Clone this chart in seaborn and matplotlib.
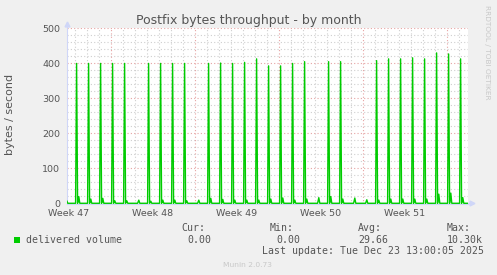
import matplotlib
matplotlib.use("Agg")
import matplotlib.pyplot as plt
import seaborn as sns
import pandas as pd
from matplotlib.lines import Line2D
from matplotlib.patches import Rectangle

# ---------------- data ----------------
# day offsets relative to Monday 2025-11-24 (start of week 48)
days = list(range(-4, 30))
peaks = [0, 399, 399, 399, 399, 399, 0, 399, 399, 399, 399, 0,
         399, 400, 399, 402, 412, 392, 392, 399, 404, 0, 404, 404,
         0, 0, 407, 412, 412, 415, 412, 429, 426, 412]
bumps = [7, 19, 12, 14, 7, 7, 9, 6, 9, 9, 7, 9,
         14, 11, 9, 9, 9, 12, 15, 9, 12, 16, 19, 12,
         15, 10, 9, 12, 12, 12, 12, 26, 29, 16]
week_labels = ["Week 47", "Week 48", "Week 49", "Week 50", "Week 51"]
y_ticks = [0, 100, 200, 300, 400, 500]
title = "Postfix bytes throughput - by month"
ylabel = "bytes / second"
series_name = "delivered volume"
stat_names = ["Cur:", "Min:", "Avg:", "Max:"]
stat_values = ["0.00", "0.00", "29.66", "10.30k"]
last_update = "Last update: Tue Dec 23 13:00:05 2025"
footer = "Munin 2.0.73"
side_text = "RRDTOOL / TOBI OETIKER"

# build the line vertices (2-hour slots) from the daily values
xs, ys = [], []
for d, p, b in zip(days, peaks, bumps):
    xs += [d + 0.6 / 12, d + 1.6 / 12, d + 2.6 / 12, d + 3.8 / 12, d + 4.8 / 12]
    ys += [0, p, 0, b, 0]
xs.append(29.75)
ys.append(0)
df = pd.DataFrame({"t": xs, "v": ys})

# ---------------- style ----------------
sns.set_style("white")
plt.rcParams["font.family"] = ["DejaVu Sans"]

W, H = 497, 275
fig = plt.figure(figsize=(W / 100, H / 100), dpi=100, facecolor="#f0f0f0")


def fx(px):
    return px / W


def fy(py):
    return 1 - py / H


AXL, AXR, AXT, AXB = 67, 468, 28, 203.8
ax = fig.add_axes([fx(AXL), fy(AXB), (AXR - AXL) / W, (AXB - AXT) / H])
ax.set_facecolor("white")
ax.set_xlim(-44 / 12, 357 / 12)
ax.set_ylim(-1.5, 500)

minor_c = "#cfcfcf"
major_c = "#e6a3a3"
dots = (0, (1, 2))
for v in range(20, 501, 20):
    if v % 100:
        ax.axhline(v, color=minor_c, lw=0.8, ls=dots, zorder=1)
for d in range(-3, 30):
    if d % 7:
        ax.axvline(d, color=minor_c, lw=0.8, ls=dots, zorder=1)
for v in range(100, 501, 100):
    ax.axhline(v, color=major_c, lw=0.8, ls=dots, zorder=1.5)
for d in range(0, 30, 7):
    ax.axvline(d, color=major_c, lw=0.8, ls=dots, zorder=1.5)

sns.lineplot(data=df, x="t", y="v", ax=ax, color="#00cc00", linewidth=1.0,
             estimator=None, sort=False, zorder=3)
ax.set_xlabel("")
ax.set_ylabel("")

for s in ["top", "right"]:
    ax.spines[s].set_visible(False)
for s in ["left", "bottom"]:
    ax.spines[s].set_color("#cfd6f8")
    ax.spines[s].set_linewidth(0.8)

# y ticks
ax.set_yticks(y_ticks)
ax.set_yticklabels([str(v) for v in y_ticks])
ax.tick_params(axis="y", length=0, pad=5, labelsize=6.8, labelcolor="#555555")
# x ticks (weekly marks, labels placed mid-week)
ax.set_xticks(list(range(0, 30, 7)))
ax.set_xticklabels([])
ax.tick_params(axis="x", length=2, width=0.8, color=major_c, direction="out")
for i, lab in enumerate(week_labels):
    xpos = -3.5 + 7 * i
    xpix = AXL + (xpos + 44 / 12) * 12
    fig.text(fx(xpix), fy(215.7), lab, ha="center", va="baseline",
             fontsize=6.8, color="#555555")

# axis arrows
fig.add_artist(Line2D([fx(AXL), fx(AXL)], [fy(AXT), fy(22)], color="#cfd6f8", lw=0.8))
fig.add_artist(Line2D([fx(AXL)], [fy(23.5)], marker="^", markersize=3.5,
                      color="#cfd6f8", lw=0))
fig.add_artist(Line2D([fx(AXR), fx(471)], [fy(203.3), fy(203.3)], color="#cfd6f8", lw=0.8))
fig.add_artist(Line2D([fx(471.5)], [fy(203.3)], marker=">", markersize=3.5,
                      color="#cfd6f8", lw=0))

# titles
fig.text(fx(248.3), fy(24), title, ha="center", va="baseline", fontsize=9,
         color="#555555")
fig.text(fx(10), fy(114.5), ylabel, ha="center", va="center", rotation=90,
         fontsize=8, color="#555555")
fig.text(fx(487.5), fy(5), side_text, ha="center", va="top", rotation=270,
         fontsize=5.3, color="#c8c8c8")

# legend
mono = "DejaVu Sans Mono"
fig.add_artist(Rectangle((fx(14), fy(242.5)), 6 / W, 6 / H, transform=fig.transFigure,
                         facecolor="#00cc00", edgecolor="none"))
fig.text(fx(26), fy(242.7), series_name, family=mono, fontsize=7.1,
         color="#555555", va="baseline")
name_x = [181, 270, 358.3, 446.7]
val_x = [187, 276, 358.3, 446.7]
for nx, vx, n, v in zip(name_x, val_x, stat_names, stat_values):
    fig.text(fx(nx), fy(231), n, family=mono, fontsize=7.1, color="#555555",
             va="baseline")
    fig.text(fx(vx), fy(242.7), v, family=mono, fontsize=7.1, color="#555555",
             va="baseline")
fig.text(fx(261.7), fy(254.3), last_update, family=mono, fontsize=7.1,
         color="#555555", va="baseline")
fig.text(fx(247.5), fy(266.7), footer, ha="center", va="baseline", fontsize=5.4,
         color="#c8c8c8")

fig.savefig("out.png", dpi=100, facecolor=fig.get_facecolor())
